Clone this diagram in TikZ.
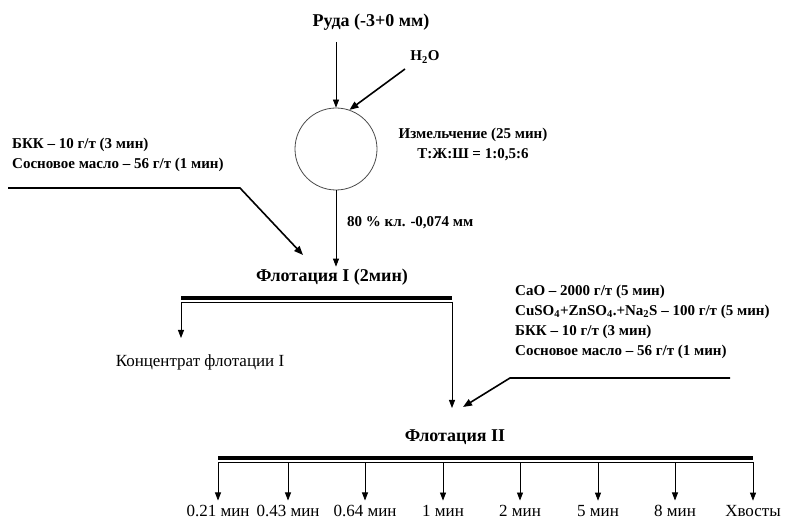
\documentclass[tikz,border=0pt]{standalone}
\usepackage{fontspec}
\setmainfont{Liberation Serif}
\usetikzlibrary{arrows.meta, positioning}

\begin{document}
\begin{tikzpicture}[
    x=1pt, y=-1pt,
    head/.style={font=\bfseries\fontsize{18}{21}\selectfont, inner sep=2pt},
    reagent/.style={font=\bfseries\fontsize{15}{20}\selectfont, align=left, inner sep=0pt},
    product/.style={font=\fontsize{17}{20}\selectfont, inner sep=4pt},
    arrow/.style={-{Triangle[length=8pt, width=6pt]}, line width=0.8pt},
    feed/.style={-{Triangle[length=9pt, width=7pt]}, line width=1.6pt},
    bar/.style={line width=3.5pt}
]

% Background
\useasboundingbox (0,0) rectangle (785,521);
\fill[white] (0,0) rectangle (785,521);

% Ore and water
\node[head] (ore) at (371,22) {Руда (-3+0 мм)};
\node[reagent] (water) at (425,57) {H\textsubscript{2}O};

% Mill
\node[circle, draw=black!70, line width=0.8pt, minimum size=82pt] (mill) at (336,149) {};
\node[reagent, align=center] (millinfo) at (473,144) {Измельчение (25 мин)\\Т:Ж:Ш = 1:0,5:6};
\node[reagent, anchor=west] (grind) at (347,223) {80 \% кл. -0,074 мм};

% Flotation I
\node[head] (flotI) at (332,277) {Флотация I (2мин)};
\node[reagent, anchor=west] (reagI) at (12,155) {БКК – 10 г/т (3 мин)\\Сосновое масло – 56 г/т (1 мин)};
\node[product, anchor=base] (concI) at (200,367) {Концентрат флотации I};

% Flotation II
\node[head] (flotII) at (455,437) {Флотация II};
\node[reagent, anchor=west] (reagII) at (515,322) {CaO – 2000 г/т (5 мин)\\CuSO\textsubscript{4}+ZnSO\textsubscript{4}.+Na\textsubscript{2}S – 100 г/т (5 мин)\\БКК – 10 г/т (3 мин)\\Сосновое масло – 56 г/т (1 мин)};

% Bars
\coordinate (barIw) at (181,298);
\coordinate (barIe) at (452,298);
\coordinate (barIIw) at (218,458);
\coordinate (barIIe) at (753,458);
\draw[bar] (barIw) -- (barIe);
\draw ([yshift=-4pt]barIw) -- ([yshift=-4pt]barIe);
\draw[bar] (barIIw) -- (barIIe);
\draw ([yshift=-4pt]barIIw) -- ([yshift=-4pt]barIIe);

% Feed points
\coordinate (feedI) at (240,188);
\coordinate (feedII) at (510,378);
\coordinate (intoI) at (303,255);
\coordinate (intoII) at (463,407);
\coordinate (waterin) at (405,69);

% Connections
\draw[arrow] (mill.north |- 0,42) -- (mill.north);
\draw[feed] (waterin) -- (mill.71);
\draw[arrow] (mill.south) -- (mill.south |- flotI.north);
\draw[feed] (8,188) -- (feedI) -- (intoI);
\draw[feed] (730,378) -- (feedII) -- (intoII);
\draw[arrow] ([yshift=-4pt]barIw) -- (barIw |- 0,338);
\draw[arrow] ([yshift=-4pt]barIe) -- (barIe |- 0,408);

% Products of flotation II
\foreach \x/\t [count=\i] in {218/0.21 мин, 288/0.43 мин, 365/0.64 мин, 443/1 мин, 520/2 мин, 598/5 мин, 675/8 мин, 753/Хвосты} {
    \node[product, anchor=base] (p\i) at (\x,516) {\t};
    \draw[arrow] (\x,462) -- (p\i.north);
}

\end{tikzpicture}
\end{document}
